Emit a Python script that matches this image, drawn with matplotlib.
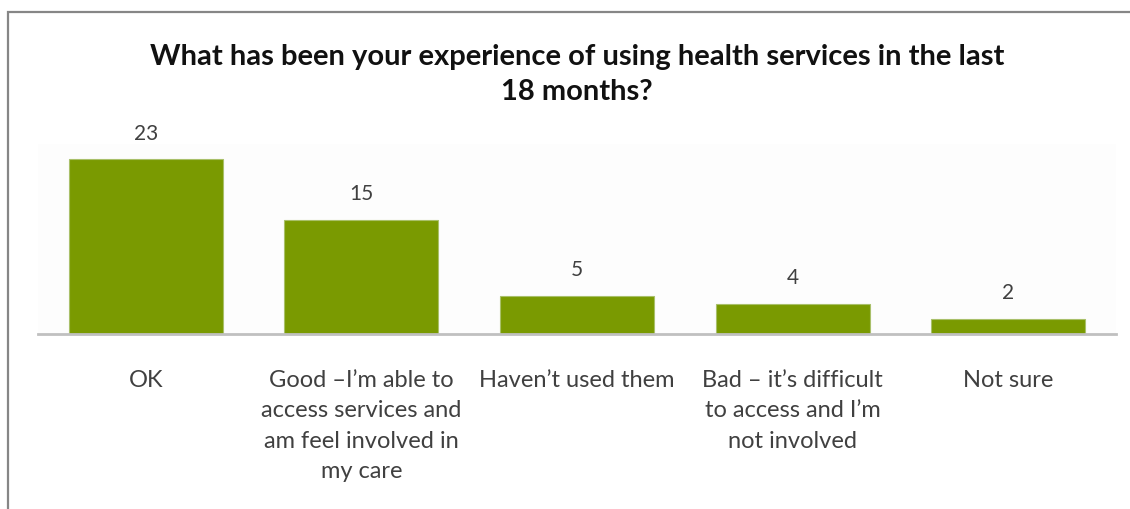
import matplotlib.pyplot as plt
from matplotlib.patches import Rectangle

# survey responses
categories = [
    "OK",
    "Good \u2013I\u2019m able to\naccess services and\nam feel involved in\nmy care",
    "Haven\u2019t used them",
    "Bad \u2013 it\u2019s difficult\nto access and I\u2019m\nnot involved",
    "Not sure",
]
counts = [23, 15, 5, 4, 2]

title = "What has been your experience of using health services in the last\n18 months?"

bar_color = "#7a9a01"
text_color = "#404040"

plt.rcParams["font.family"] = ["Lato", "DejaVu Sans"]

W, H = 1130, 510
fig = plt.figure(figsize=(W / 100, H / 100), dpi=100)
fig.patch.set_facecolor("white")

# outer chart frame (right and bottom edges fall off the canvas)
fig.patches.append(Rectangle((8 / W, -0.1), 1.2, (H - 13) / H + 0.1,
                             transform=fig.transFigure, fill=False,
                             edgecolor="#868686", linewidth=1.6))

ax = fig.add_axes([38 / W, (H - 335) / H, (1116 - 38) / W, (335 - 145) / H])
ax.set_facecolor("#fdfdfd")

x = range(len(categories))
bars = ax.bar(x, counts, width=0.715, color=bar_color,
              edgecolor="#a9c06a", linewidth=0.8)

for b, v in zip(bars, counts):
    ax.annotate(str(v), (b.get_x() + b.get_width() / 2, v),
                xytext=(0, 12), textcoords="offset points",
                ha="center", va="bottom", fontsize=15, color=text_color)

ax.set_xlim(-0.5, len(categories) - 0.5)
ax.set_ylim(0, 25)
ax.set_xticks(list(x))
ax.set_xticklabels(categories, fontsize=17, color=text_color,
                   linespacing=1.56, va="top")
ax.tick_params(axis="x", length=0, pad=25)
ax.set_yticks([])

for s in ["top", "right", "left"]:
    ax.spines[s].set_visible(False)
ax.spines["bottom"].set_color("#c0c0c0")
ax.spines["bottom"].set_linewidth(2)

fig.text((38 + 1116) / 2 / W, 1 - 44 / H, title, ha="center", va="top",
         fontsize=21, fontweight="bold", color="#111111", linespacing=1.45)

fig.savefig("out.png", dpi=100)
